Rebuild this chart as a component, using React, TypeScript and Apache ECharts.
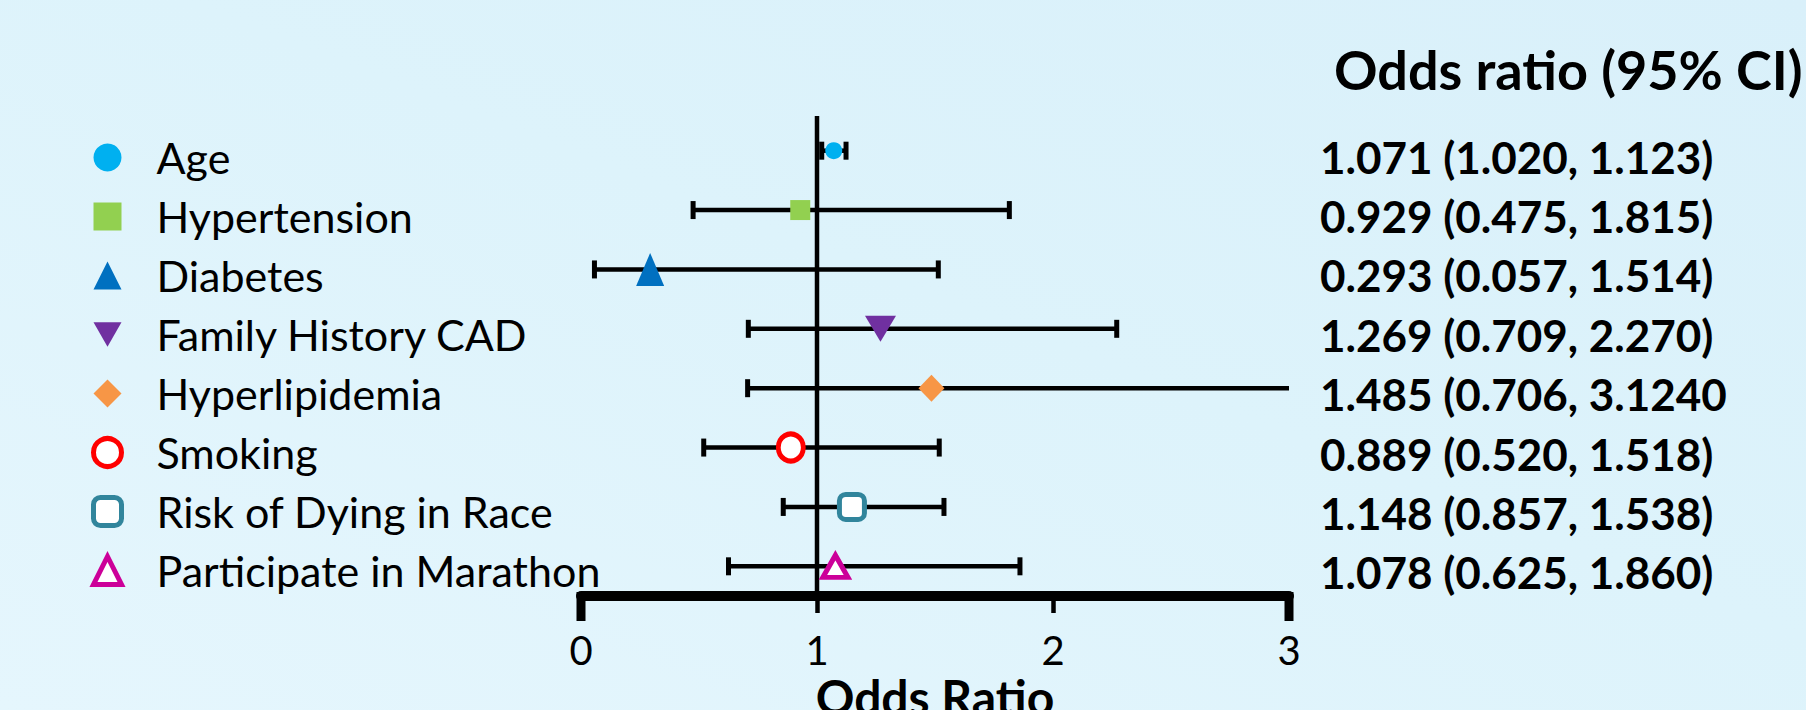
import React, { useEffect, useRef } from "react";
import * as echarts from "echarts";

// ---------- data ----------
const categories = [
  "Age",
  "Hypertension",
  "Diabetes",
  "Family History CAD",
  "Hyperlipidemia",
  "Smoking",
  "Risk of Dying in Race",
  "Participate in Marathon",
];
const oddsRatio = [1.071, 0.929, 0.293, 1.269, 1.485, 0.889, 1.148, 1.078];
const ciLow = [1.02, 0.475, 0.057, 0.709, 0.706, 0.52, 0.857, 0.625];
const ciHigh = [1.123, 1.815, 1.514, 2.27, 3.124, 1.518, 1.538, 1.86];
const ciLabels = [
  "1.071 (1.020, 1.123)",
  "0.929 (0.475, 1.815)",
  "0.293 (0.057, 1.514)",
  "1.269 (0.709, 2.270)",
  "1.485 (0.706, 3.1240",
  "0.889 (0.520, 1.518)",
  "1.148 (0.857, 1.538)",
  "1.078 (0.625, 1.860)",
];
const xMin = 0;
const xMax = 3;
const xInterval = 1;
const referenceValue = 1;
const tableTitle = "Odds ratio (95% CI)";
const axisTitle = "Odds Ratio";

// ---------- styles ----------
const FONT = "Lato";
type MarkerStyle = {
  symbol: string;
  size: number | number[];
  rotate?: number;
  legendIcon?: string;
  fill: string;
  stroke?: string;
};
const markerStyles: MarkerStyle[] = [
  { symbol: "circle", size: 17, fill: "#00B0F0" },
  { symbol: "rect", size: 20, fill: "#92D050" },
  { symbol: "triangle", size: [28, 33], fill: "#0070C0" },
  {
    symbol: "triangle",
    size: [31, 26],
    rotate: 180,
    legendIcon: "path://M0,0L30,0L15,26Z",
    fill: "#7030A0",
  },
  { symbol: "diamond", size: [26, 27], fill: "#F79646" },
  { symbol: "circle", size: [25, 27], fill: "#FFFFFF", stroke: "#FF0000" },
  { symbol: "roundRect", size: [25, 25], fill: "#FFFFFF", stroke: "#31859C" },
  { symbol: "triangle", size: [25, 22], fill: "#FFFFFF", stroke: "#CC0099" },
];

export default function App() {
  const ref = useRef<HTMLDivElement>(null);

  useEffect(() => {
    if (!ref.current) return;
    const chart = echarts.init(ref.current, undefined, { renderer: "svg" });

    const gridLeft = 581;
    const gridRight = 1806 - 1289;
    const gridTop = 121;
    const gridHeight = 475;

    const scatterSeries = categories.map((name, i) => {
      const st = markerStyles[i];
      return {
        type: "scatter",
        name,
        symbol: st.symbol,
        symbolSize: st.size,
        symbolRotate: st.rotate || 0,
        itemStyle: {
          color: st.fill,
          borderColor: st.stroke || st.fill,
          borderWidth: st.stroke ? 5 : 0,
          opacity: 1,
        },
        z: 5,
        data: [[oddsRatio[i], i]],
      };
    });

    const errorBars = {
      type: "custom",
      name: "ci",
      z: 3,
      encode: { x: [0, 1], y: 2 },
      data: categories.map((_, i) => [ciLow[i], ciHigh[i], i]),
      renderItem: (params: any, api: any) => {
        const lo = api.value(0);
        const hi = api.value(1);
        const idx = api.value(2);
        const p0 = api.coord([Math.max(lo, xMin), idx]);
        const p1 = api.coord([Math.min(hi, xMax), idx]);
        const cap = 9;
        const children: any[] = [
          {
            type: "line",
            shape: { x1: p0[0], y1: p0[1], x2: p1[0], y2: p1[1] },
            style: { stroke: "#000", lineWidth: 4.5 },
          },
        ];
        if (lo >= xMin)
          children.push({
            type: "line",
            shape: { x1: p0[0], y1: p0[1] - cap, x2: p0[0], y2: p0[1] + cap },
            style: { stroke: "#000", lineWidth: 5 },
          });
        if (hi <= xMax)
          children.push({
            type: "line",
            shape: { x1: p1[0], y1: p1[1] - cap, x2: p1[0], y2: p1[1] + cap },
            style: { stroke: "#000", lineWidth: 5 },
          });
        return { type: "group", children };
      },
    };

    const refLine = {
      type: "custom",
      name: "ref",
      z: 2,
      encode: { x: 0, y: 1 },
      data: [[referenceValue, 0]],
      renderItem: (params: any, api: any) => {
        const x = api.coord([api.value(0), 0])[0];
        const cs = params.coordSys;
        return {
          type: "line",
          shape: { x1: x, y1: cs.y - 5, x2: x, y2: cs.y + cs.height },
          style: { stroke: "#000", lineWidth: 4.5 },
        };
      },
    };

    const axisEnds = {
      type: "custom",
      name: "ends",
      z: 4,
      encode: { x: 0, y: 1 },
      data: [
        [xMin, 0],
        [xMax, 0],
      ],
      renderItem: (params: any, api: any) => {
        const x = api.coord([api.value(0), 0])[0];
        const cs = params.coordSys;
        return {
          type: "rect",
          shape: { x: x - 4.5, y: cs.y + cs.height - 4, width: 9, height: 29 },
          style: { fill: "#000" },
        };
      },
    };

    const option: any = {
      animation: false,
      backgroundColor: "transparent",
      title: {
        text: tableTitle,
        left: 1334,
        top: 42,
        padding: 0,
        textStyle: { fontFamily: FONT, fontSize: 54, fontWeight: "bold", color: "#000" },
      },
      legend: {
        orient: "vertical",
        left: 86,
        top: 131,
        itemWidth: 28,
        itemHeight: 28,
        itemGap: 16,
        selectedMode: false,
        itemStyle: { borderWidth: 5 },
        textStyle: {
          fontFamily: FONT,
          fontSize: 43,
          color: "#000",
          padding: [0, 0, 0, 30],
        },
        data: categories.map((name, i) => {
          const st = markerStyles[i];
          const item: any = {
            name,
            itemStyle: {
              color: st.fill,
              borderColor: st.stroke || st.fill,
              borderWidth: st.stroke ? 5 : 0,
            },
          };
          if (st.legendIcon) item.icon = st.legendIcon;
          return item;
        }),
      },
      grid: {
        left: gridLeft,
        right: gridRight,
        top: gridTop,
        height: gridHeight,
        containLabel: false,
        outerBoundsMode: "none",
      },
      xAxis: {
        type: "value",
        min: xMin,
        max: xMax,
        interval: xInterval,
        position: "bottom",
        axisLine: { show: true, onZero: false, lineStyle: { color: "#000", width: 10 } },
        axisTick: { show: true, length: 17, lineStyle: { color: "#000", width: 4.5 } },
        axisLabel: { fontFamily: FONT, fontSize: 40, color: "#000", margin: 34 },
        splitLine: { show: false },
        name: axisTitle,
        nameLocation: "middle",
        nameGap: 76,
        nameMoveOverlap: false,
        nameTextStyle: { fontFamily: FONT, fontSize: 48, fontWeight: "bold", color: "#000" },
      },
      yAxis: {
        type: "category",
        data: categories,
        inverse: true,
        position: "right",
        axisLine: { show: false },
        axisTick: { show: false },
        splitLine: { show: false },
        axisLabel: {
          interval: 0,
          margin: 31,
          fontFamily: FONT,
          fontSize: 44,
          fontWeight: "bold",
          color: "#000",
          verticalAlign: "top",
          lineHeight: 12,
          formatter: (_v: string, idx: number) => ciLabels[idx],
        },
      },
      series: [refLine, errorBars, axisEnds, ...scatterSeries],
    };

    chart.setOption(option);
    return () => chart.dispose();
  }, []);

  return (
    <div
      style={{
        position: "absolute",
        left: 0,
        top: 0,
        width: 1806,
        height: 710,
        overflow: "hidden",
        background: "linear-gradient(to top right, #E5F6FD 0%, #DDF3FB 55%, #D9F0FA 100%)",
      }}
    >
      <div ref={ref} style={{ width: 1806, height: 710 }} />
    </div>
  );
}
